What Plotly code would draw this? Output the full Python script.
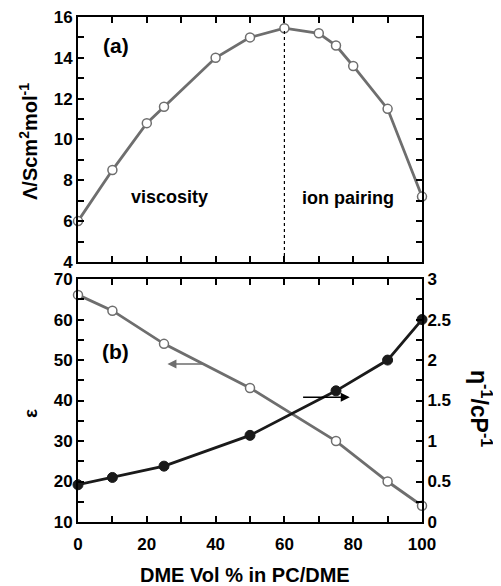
import plotly.graph_objects as go

# Panel (a): molar conductivity
x_a = [0, 10, 20, 25, 40, 50, 60, 70, 75, 80, 90, 100]
lam = [6.0, 8.5, 10.8, 11.6, 14.0, 15.0, 15.45, 15.2, 14.6, 13.6, 11.5, 7.2]

# Panel (b): dielectric constant and inverse viscosity
x_b = [0, 10, 25, 50, 75, 90, 100]
eps = [66.1, 62.2, 54.0, 43.1, 30.0, 20.0, 14.0]
inv_eta = [0.46, 0.55, 0.69, 1.07, 1.62, 2.0, 2.5]

x_ticks = [0, 20, 40, 60, 80, 100]

FONT = "Liberation Sans"
tf = dict(family=FONT, size=17, color="black", weight="bold")
GREY = "#6e6e6e"

W, H = 493, 578
L, R, T, B = 70, 79, 9, 64
PW, PH = W - L - R, H - T - B


def px2paper(px, py):
    # window pixel -> paper coords (page body has an 8px margin)
    return (px - 8 - L) / PW, (H - B - (py - 8)) / PH


fig = go.Figure()

fig.add_trace(go.Scatter(
    x=x_a, y=lam, xaxis="x", yaxis="y", mode="lines+markers",
    line=dict(color=GREY, width=2.8),
    marker=dict(symbol="circle", size=9, color="white", line=dict(color=GREY, width=1.5)),
    cliponaxis=False, showlegend=False))

fig.add_trace(go.Scatter(
    x=x_b, y=eps, xaxis="x2", yaxis="y2", mode="lines+markers",
    line=dict(color=GREY, width=2.8),
    marker=dict(symbol="circle", size=9, color="white", line=dict(color=GREY, width=1.5)),
    cliponaxis=False, showlegend=False))

fig.add_trace(go.Scatter(
    x=x_b, y=inv_eta, xaxis="x2", yaxis="y3", mode="lines+markers",
    line=dict(color="#1a1a1a", width=2.8),
    marker=dict(symbol="circle", size=10, color="#1a1a1a", line=dict(color="#1a1a1a", width=1)),
    cliponaxis=False, showlegend=False))

minor_common = dict(ticks="inside", ticklen=6, tickwidth=2, tickcolor="black")
axis_common = dict(showline=True, linecolor="black", linewidth=2, ticks="inside",
                   ticklen=6, tickwidth=2, tickcolor="black", showgrid=False,
                   zeroline=False, tickfont=tf, automargin=False,
                   ticklabeloverflow="allow")

fig.update_layout(
    width=W, height=H,
    margin=dict(l=L, r=R, t=T, b=B),
    paper_bgcolor="white", plot_bgcolor="white",
    xaxis=dict(domain=[0, 1], anchor="y", range=[0, 100], tickvals=x_ticks,
               showticklabels=False, mirror="ticks",
               minor=dict(dtick=10, **minor_common), **axis_common),
    yaxis=dict(domain=[0.515, 1], anchor="x", range=[4, 16], dtick=2, mirror="ticks",
               minor=dict(dtick=1, **minor_common), **axis_common),
    xaxis2=dict(domain=[0, 1], anchor="y2", range=[0, 100], tickvals=x_ticks,
                mirror="ticks", ticklabelstandoff=6,
                minor=dict(dtick=10, **minor_common), **axis_common),
    yaxis2=dict(domain=[0, 0.481], anchor="x2", range=[10, 70], dtick=10,
                minor=dict(dtick=5, **minor_common), **axis_common),
    yaxis3=dict(overlaying="y2", side="right", anchor="x2", range=[0, 3], dtick=0.5,
                tickformat="~g", minor=dict(dtick=0.25, **minor_common), **axis_common),
)

# vertical dotted line at 60%
fig.add_shape(type="line", xref="x", yref="y", x0=60, x1=60, y0=4, y1=15.45,
              line=dict(color="black", width=1.2, dash="dot"))

ann_font = dict(family=FONT, size=21, color="black", weight="bold")
txt_font = dict(family=FONT, size=18, color="black", weight="bold")
fig.add_annotation(x=11, y=14.6, xref="x", yref="y", text="(a)", showarrow=False, font=ann_font)
fig.add_annotation(x=26.5, y=7.2, xref="x", yref="y", text="viscosity", showarrow=False, font=txt_font)
fig.add_annotation(x=78.5, y=7.15, xref="x", yref="y", text="ion pairing", showarrow=False, font=txt_font)
fig.add_annotation(x=11, y=52, xref="x2", yref="y2", text="(b)", showarrow=False, font=ann_font)

# arrows
fig.add_annotation(x=26, y=49, ax=37, ay=49, xref="x2", yref="y2", axref="x2", ayref="y2",
                   text="", showarrow=True, arrowhead=2, arrowsize=1.2, arrowwidth=1.5, arrowcolor=GREY)
fig.add_annotation(x=79, y=1.54, ax=65, ay=1.54, xref="x2", yref="y3", axref="x2", ayref="y3",
                   text="", showarrow=True, arrowhead=2, arrowsize=1.2, arrowwidth=1.5, arrowcolor="black")

# axis titles (positions given in window pixels)
for (px, py, text, ang, size) in [
    (28, 142, "Λ/Scm<sup>2</sup>mol<sup>-1</sup>", -90, 20),
    (30, 414, "ε", -90, 19),
    (481, 408, "η<sup>-1</sup>/cP<sup>-1</sup>", 90, 23),
    (245, 575, "DME Vol % in PC/DME", 0, 20),
]:
    xp, yp = px2paper(px, py)
    fig.add_annotation(x=xp, y=yp, xref="paper", yref="paper", text=text, showarrow=False,
                       textangle=ang, xanchor="center", yanchor="middle",
                       font=dict(family=FONT, size=size, color="black", weight="bold"))

fig.write_html("out.html")
